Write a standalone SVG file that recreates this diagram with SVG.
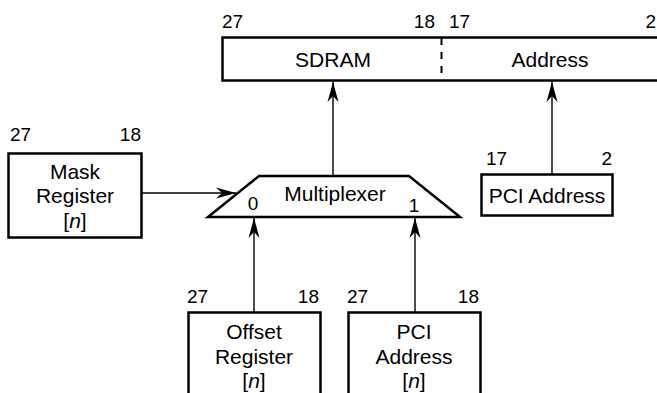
<svg xmlns="http://www.w3.org/2000/svg" width="657" height="393" viewBox="0 0 657 393">
<style>
.box{fill:#fff;stroke:#000;stroke-width:2.5}
.t{font-family:"Liberation Sans",Arial,sans-serif;font-size:21px;fill:#000;text-anchor:middle}
.d{font-family:"Liberation Sans",Arial,sans-serif;font-size:19px;fill:#000}
.e{text-anchor:end}
.c{stroke:#000;stroke-width:1.4;fill:none}
</style>
<defs>
<marker id="ah" viewBox="-21 -6 22 12" markerWidth="22" markerHeight="12" refX="0" refY="0" orient="auto" markerUnits="userSpaceOnUse">
<path d="M0,0 L-20,-5.5 L-14,0 L-20,5.5 Z" fill="#000"/>
</marker>
</defs>
<rect width="657" height="393" fill="#fff"/>
<g id="connectors">
<line class="c" x1="333" y1="176" x2="333" y2="82" marker-end="url(#ah)"/>
<line class="c" x1="552" y1="174" x2="552" y2="82" marker-end="url(#ah)"/>
<line class="c" x1="142" y1="193" x2="236" y2="193" marker-end="url(#ah)"/>
<line class="c" x1="254" y1="312" x2="254" y2="218" marker-end="url(#ah)"/>
<line class="c" x1="415" y1="312" x2="415" y2="218" marker-end="url(#ah)"/>
</g>
<g id="sdram-address">
<rect class="box" x="222.5" y="37.5" width="440" height="43"/>
<line x1="441.5" y1="38" x2="441.5" y2="80" stroke="#000" stroke-width="2" stroke-dasharray="7,7"/>
<text class="t" x="333" y="67">SDRAM</text>
<text class="t" x="550" y="67">Address</text>
<text class="d" x="222" y="28">27</text>
<text class="d e" x="435" y="28">18</text>
<text class="d" x="449" y="28">17</text>
<text class="d e" x="656" y="28">2</text>
</g>
<g id="mask-register">
<rect class="box" x="8.5" y="153.5" width="133" height="84"/>
<text class="t" x="75" y="179">Mask</text>
<text class="t" x="75" y="203">Register</text>
<text class="t" x="75" y="228">[<tspan font-style="italic">n</tspan>]</text>
<text class="d" x="10" y="141">27</text>
<text class="d e" x="141" y="141">18</text>
</g>
<g id="multiplexer">
<polygon class="box" points="259,176 409,176 460,217 208,217"/>
<text class="t" x="335" y="201">Multiplexer</text>
<text class="d" x="253" y="210" text-anchor="middle">0</text>
<text class="d" x="414" y="212" text-anchor="middle">1</text>
</g>
<g id="pci-address-top">
<rect class="box" x="481.5" y="174.5" width="131" height="41"/>
<text class="t" x="547" y="203">PCI Address</text>
<text class="d" x="486" y="165">17</text>
<text class="d e" x="612" y="165">2</text>
</g>
<g id="offset-register">
<rect class="box" x="188.5" y="312.5" width="132" height="100"/>
<text class="t" x="254" y="339">Offset</text>
<text class="t" x="254" y="364">Register</text>
<text class="t" x="254" y="388">[<tspan font-style="italic">n</tspan>]</text>
<text class="d" x="187" y="303">27</text>
<text class="d e" x="319" y="303">18</text>
</g>
<g id="pci-address-n">
<rect class="box" x="348.5" y="312.5" width="132" height="100"/>
<text class="t" x="414" y="339">PCI</text>
<text class="t" x="414" y="364">Address</text>
<text class="t" x="414" y="388">[<tspan font-style="italic">n</tspan>]</text>
<text class="d" x="347" y="303">27</text>
<text class="d e" x="479" y="303">18</text>
</g>
</svg>
